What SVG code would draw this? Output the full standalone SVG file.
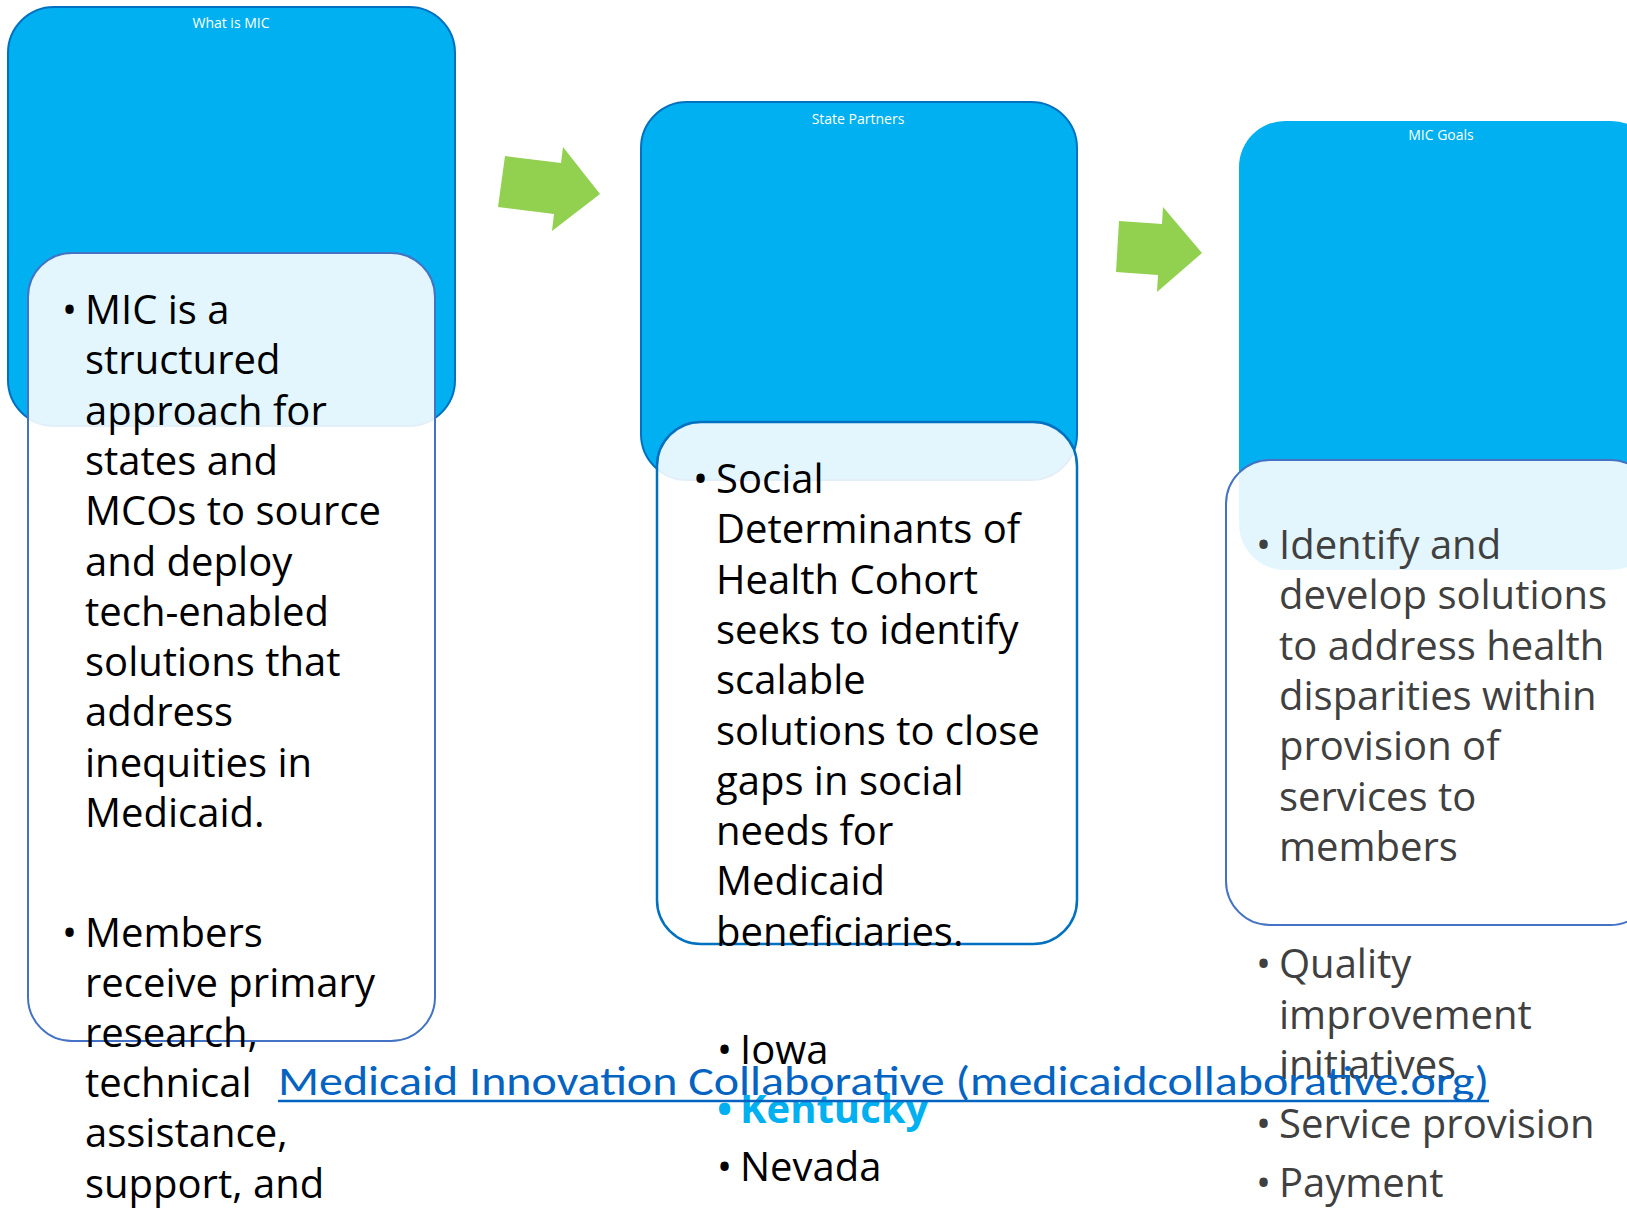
<svg xmlns="http://www.w3.org/2000/svg" width="1627" height="1208" viewBox="0 0 1627 1208">
<style>
.outer{fill:#00B0F0;stroke:#0070C0;stroke-width:2}
.outer3{fill:#00B0F0;stroke:none}
.inner{fill:#FFFFFF;fill-opacity:0.89;stroke:#4472C4;stroke-width:2}
.inner2{fill:#FFFFFF;fill-opacity:0.89;stroke:#0070C0;stroke-width:2.5}
.title{font-family:"Open Sans","Liberation Sans",sans-serif;font-size:14px;fill:#FFFFFF;text-anchor:middle}
.body{font-family:"Open Sans","Liberation Sans",sans-serif;font-size:40px;fill:#000000}
.grey{fill:#404040}
.ky{font-weight:bold;fill:#00B0F0}
.arrow{fill:#92D050;stroke:none}
.link{font-family:Carlito,"Open Sans","Liberation Sans",sans-serif;font-size:42px;fill:#0563C1}
</style>
<rect width="1627" height="1208" fill="#FFFFFF"/>
<g id="connectors">
<polygon class="arrow" points="505,156 561,163 563,147 600,194 552,231 554,214 498,207"/>
<polygon class="arrow" points="1119,221 1162,224 1163,207 1202,253 1157,292 1158,275 1116,272"/>
</g>
<g id="node-what-is-mic">
<rect class="outer" x="8" y="7" width="447" height="419" rx="46" ry="46"/>
<text class="title" x="231" y="28">What is MIC</text>
<rect class="inner" x="28" y="253" width="407" height="788" rx="44" ry="44"/>
<text class="body">
<tspan x="62" y="324">•</tspan><tspan x="85" y="324">MIC is a</tspan>
<tspan x="85" y="374">structured</tspan>
<tspan x="85" y="425">approach for</tspan>
<tspan x="85" y="475">states and</tspan>
<tspan x="85" y="525">MCOs to source</tspan>
<tspan x="85" y="576">and deploy</tspan>
<tspan x="85" y="626">tech-enabled</tspan>
<tspan x="85" y="676">solutions that</tspan>
<tspan x="85" y="726">address</tspan>
<tspan x="85" y="777">inequities in</tspan>
<tspan x="85" y="827">Medicaid.</tspan>
<tspan x="62" y="947">•</tspan><tspan x="85" y="947">Members</tspan>
<tspan x="85" y="997">receive primary</tspan>
<tspan x="85" y="1047">research,</tspan>
<tspan x="85" y="1097">technical</tspan>
<tspan x="85" y="1147">assistance,</tspan>
<tspan x="85" y="1198">support, and</tspan>
</text>
</g>
<g id="node-state-partners">
<rect class="outer" x="641" y="102" width="436" height="378" rx="46" ry="46"/>
<text class="title" x="858" y="124">State Partners</text>
<rect class="inner2" x="657" y="422" width="420" height="522" rx="44" ry="44"/>
<text class="body">
<tspan x="693" y="493">•</tspan><tspan x="716" y="493">Social</tspan>
<tspan x="716" y="543">Determinants of</tspan>
<tspan x="716" y="594">Health Cohort</tspan>
<tspan x="716" y="644">seeks to identify</tspan>
<tspan x="716" y="694">scalable</tspan>
<tspan x="716" y="745">solutions to close</tspan>
<tspan x="716" y="795">gaps in social</tspan>
<tspan x="716" y="845">needs for</tspan>
<tspan x="716" y="895">Medicaid</tspan>
<tspan x="716" y="946">beneficiaries.</tspan>
<tspan x="717" y="1064">•</tspan><tspan x="740" y="1064">Iowa</tspan>
<tspan x="717" y="1181">•</tspan><tspan x="740" y="1181">Nevada</tspan>
</text>
<text class="body ky"><tspan x="717" y="1123">•</tspan><tspan x="740" y="1123">Kentucky</tspan></text>
</g>
<g id="node-mic-goals">
<rect class="outer3" x="1239" y="121" width="418" height="449" rx="46" ry="46"/>
<text class="title" x="1441" y="140">MIC Goals</text>
<rect class="inner" x="1226" y="460" width="428" height="465" rx="44" ry="44"/>
<text class="body grey">
<tspan x="1256" y="559">•</tspan><tspan x="1279" y="559">Identify and</tspan>
<tspan x="1279" y="609">develop solutions</tspan>
<tspan x="1279" y="660">to address health</tspan>
<tspan x="1279" y="710">disparities within</tspan>
<tspan x="1279" y="760">provision of</tspan>
<tspan x="1279" y="811">services to</tspan>
<tspan x="1279" y="861">members</tspan>
<tspan x="1256" y="978">•</tspan><tspan x="1279" y="978">Quality</tspan>
<tspan x="1279" y="1029">improvement</tspan>
<tspan x="1279" y="1079">initiatives</tspan>
<tspan x="1256" y="1138">•</tspan><tspan x="1279" y="1138">Service provision</tspan>
<tspan x="1256" y="1197">•</tspan><tspan x="1279" y="1197">Payment</tspan>
</text>
</g>
<g id="link">
<text class="link" x="278" y="1095" textLength="1211" lengthAdjust="spacingAndGlyphs">Medicaid Innovation Collaborative (medicaidcollaborative.org)</text>
<line x1="278" y1="1101" x2="1489" y2="1101" stroke="#0563C1" stroke-width="2.5"/>
</g>
</svg>
